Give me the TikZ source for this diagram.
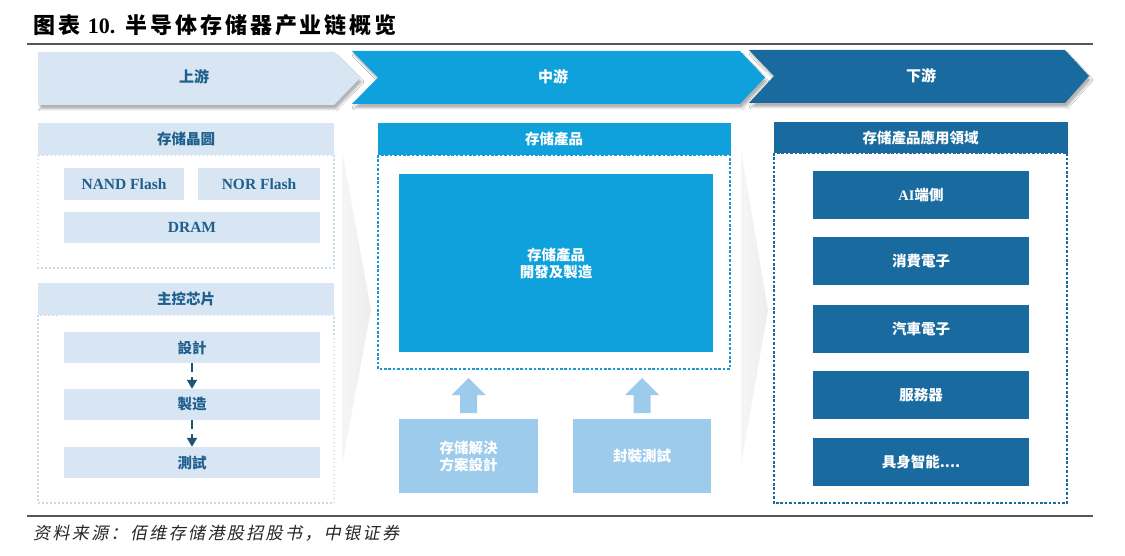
\documentclass[tikz,border=0pt]{standalone}
\usepackage{fontspec}
\setmainfont{Liberation Serif}
\newfontfamily\cjk{Noto Sans CJK SC}
\newfontfamily\cjkit[FakeSlant=0.2,LetterSpace=14]{Noto Sans CJK SC}
\newfontfamily\cjktitle[LetterSpace=13]{Noto Sans CJK SC}
\usetikzlibrary{arrows.meta,shadows.blur}
\definecolor{lblue}{HTML}{D7E6F2}
\definecolor{bblue}{HTML}{0FA1DB}
\definecolor{dblue}{HTML}{196A9E}
\definecolor{sblue}{HTML}{9DCBEC}
\definecolor{ltxt}{HTML}{1F5F8E}
\definecolor{ldot}{HTML}{C9DCEA}
\definecolor{mdot}{HTML}{1C97D2}
\definecolor{arrowc}{HTML}{1C5673}
\definecolor{rulec}{HTML}{555555}
\definecolor{wedgec}{HTML}{EDEDED}
\definecolor{wedgel}{HTML}{F6F6F6}
\tikzset{
  cfont/.style={font=\cjk\bfseries\fontsize{14.5}{17}\selectfont},
  lfont/.style={font=\rmfamily\bfseries\fontsize{15.5}{17}\selectfont},
  lbox/.style={fill=lblue, text=ltxt, inner sep=0, cfont},
  mbox/.style={fill=bblue, text=white, inner sep=0, cfont},
  sbox/.style={fill=sblue, text=white, inner sep=0, cfont, align=center},
  dbox/.style={fill=dblue, text=white, inner sep=0, cfont},
  ldots/.style={draw=ldot, line width=1.5pt, dash pattern=on 1.5pt off 2.5pt},
  mdots/.style={draw=mdot, line width=2.6pt, dash pattern=on 2.6pt off 1.8pt},
  rdots/.style={draw=dblue, line width=2.6pt, dash pattern=on 2.6pt off 1.8pt},
  chev/.style={blur shadow={shadow xshift=2pt, shadow yshift=-4pt, shadow opacity=30, shadow blur steps=6}},
  chevtext/.style={font=\cjk\bfseries\fontsize{15}{17}\selectfont},
  downarrow/.style={draw=arrowc, line width=1.5pt, dash pattern=on 9pt off 5pt, -{Triangle[length=9pt,width=10pt]}},
  blockarrow/.style={fill=sblue, draw=none},
  wedge/.style={left color=wedgel, right color=wedgec, draw=none},
  rulel/.style={draw=rulec, line width=1.4pt}
}
\begin{document}
\begin{tikzpicture}[x=1pt,y=-1pt]
\useasboundingbox (0,0) rectangle (1125,556);
\fill[white] (0,0) rectangle (1125,556);

% title and rules
\node[anchor=west, inner sep=0, font=\cjktitle\bfseries\fontsize{22}{24}\selectfont] (title) at (33,25)
  {图表 {\rmfamily\bfseries 10.} 半导体存储器产业链概览};
\coordinate (r1a) at (27,44); \coordinate (r1b) at (1093,44);
\draw[rulel] (r1a) -- (r1b);
\coordinate (r2a) at (27,516); \coordinate (r2b) at (1093,516);
\draw[rulel] (r2a) -- (r2b);
\node[anchor=west, inner sep=0, font=\cjkit\fontsize{17}{19}\selectfont, text=black!85] (source) at (33,533)
  {资料来源：佰维存储港股招股书，中银证券};

% chevrons
\fill[lblue, chev] (38,52) -- (334,52) -- (360,78) -- (334,105) -- (38,105) -- cycle;
\fill[bblue, chev] (352,51) -- (740,51) -- (765,77.5) -- (740,104) -- (352,104) -- (378,77.5) -- cycle;
\fill[dblue, chev] (749,50) -- (1065,50) -- (1089,76) -- (1065,103) -- (749,103) -- (774,76) -- cycle;
\node[chevtext, text=ltxt] (up) at (194,77) {上游};
\node[chevtext, text=white] (midstream) at (553,77) {中游};
\node[chevtext, text=white] (down) at (921,76) {下游};

% gray wedges
\path[wedge] (342,150) -- (371,310) -- (342,465) -- cycle;
\path[wedge] (741,150) -- (768,310) -- (741,465) -- cycle;

% left column
\draw[ldots] (38,155) rectangle (334,268);
\node[lbox, minimum width=296, minimum height=32] (h1) at (186,139) {存储晶圆};
\node[lbox, lfont, minimum width=120, minimum height=32] (nand) at (124,184) {NAND Flash};
\node[lbox, lfont, minimum width=122, minimum height=32] (nor) at (259,184) {NOR Flash};
\node[lbox, lfont, minimum width=256, minimum height=31] (dram) at (192,227.5) {DRAM};

\draw[ldots] (38,315) rectangle (334,503);
\node[lbox, minimum width=296, minimum height=32] (h2) at (186,299) {主控芯片};
\node[lbox, minimum width=256, minimum height=31] (design) at (192,347.5) {設計};
\node[lbox, minimum width=256, minimum height=31] (mfg) at (192,404.5) {製造};
\node[lbox, minimum width=256, minimum height=31] (test) at (192,462.5) {測試};
\draw[downarrow] (design.south) -- (mfg.north);
\draw[downarrow] (mfg.south) -- (test.north);

% middle column
\draw[mdots] (378,155) rectangle (730,369);
\node[mbox, minimum width=353, minimum height=32] (h3) at (554,139) {存储產品};
\node[mbox, align=center, minimum width=314, minimum height=178] (dev) at (556,263) {存储產品\\開發及製造};
\node[sbox, minimum width=139, minimum height=74] (sol) at (468.5,456) {存储解決\\方案設計};
\node[sbox, minimum width=138, minimum height=74] (pkg) at (642,456) {封裝測試};
% block arrows
\fill[blockarrow] (460,413) -- (477,413) -- (477,395) -- (485.5,395) -- (468.5,378) -- (451.5,395) -- (460,395) -- cycle;
\fill[blockarrow] (633.5,413) -- (650.5,413) -- (650.5,395) -- (659,395) -- (642,378) -- (625,395) -- (633.5,395) -- cycle;

% right column
\draw[rdots] (774,153) rectangle (1067,503);
\node[dbox, minimum width=294, minimum height=31] (h4) at (920.5,137.5) {存储產品應用領域};
\node[dbox, minimum width=216, minimum height=48] (ai) at (921,195) {{\rmfamily\bfseries AI}端側};
\node[dbox, minimum width=216, minimum height=48] (cons) at (921,261) {消費電子};
\node[dbox, minimum width=216, minimum height=48] (auto) at (921,328.5) {汽車電子};
\node[dbox, minimum width=216, minimum height=48] (serv) at (921,395) {服務器};
\node[dbox, minimum width=216, minimum height=48] (emb) at (921,462) {具身智能....};
\end{tikzpicture}
\end{document}
